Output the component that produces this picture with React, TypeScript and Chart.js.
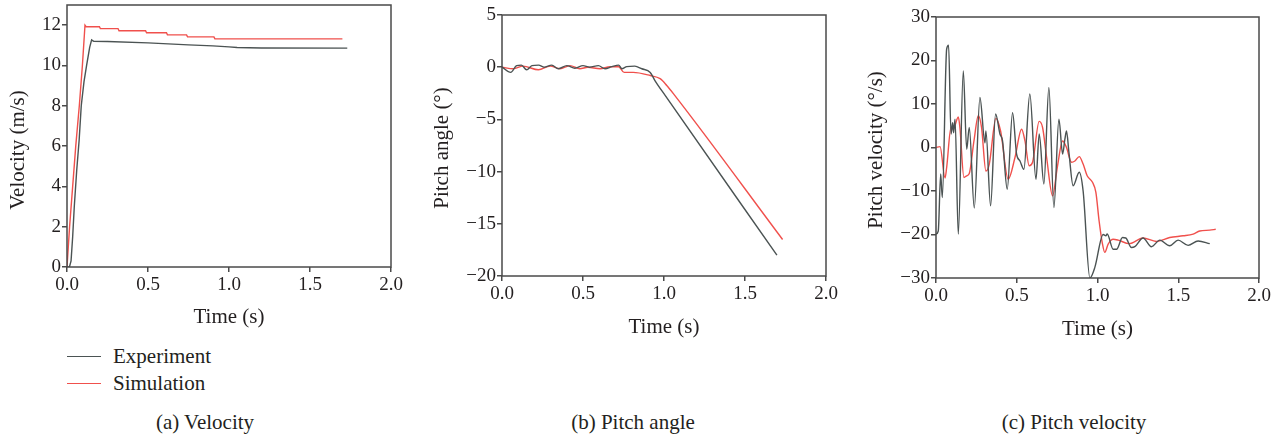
import React, { useEffect, useRef } from "react";
import { Chart, registerables } from "chart.js";

Chart.register(...registerables);

// ---------- data ----------
const xTicks = [0, 0.5, 1.0, 1.5, 2.0];

// (a) velocity
const velExpT = [0, 0.015, 0.025, 0.035, 0.045, 0.06, 0.075, 0.088, 0.105, 0.121, 0.14, 0.152, 0.165, 0.25, 0.5, 0.75, 0.9, 1.0, 1.05, 1.2, 1.73];
const velExpY = [0, 0, 0.3, 1.5, 3.0, 4.8, 6.3, 8.0, 9.2, 10.0, 10.9, 11.27, 11.2, 11.19, 11.12, 11.02, 10.97, 10.92, 10.89, 10.87, 10.86];
const velSimT = [0, 0.016, 0.035, 0.054, 0.076, 0.095, 0.111, 0.118, 0.2, 0.206, 0.315, 0.321, 0.485, 0.491, 0.614, 0.62, 0.738, 0.744, 0.907, 0.913, 1.7];
const velSimY = [0, 2, 4, 6, 8, 10, 12.0, 11.92, 11.92, 11.83, 11.83, 11.72, 11.72, 11.62, 11.62, 11.52, 11.52, 11.42, 11.42, 11.32, 11.32];

// (b) pitch angle
const angExpT = [0, 0.054, 0.09, 0.12, 0.152, 0.185, 0.226, 0.26, 0.307, 0.348, 0.4, 0.45, 0.5, 0.54, 0.595, 0.636, 0.678, 0.72, 0.74, 0.77, 0.82, 0.863, 0.915, 0.945, 1.007, 1.697];
const angExpY = [0, -0.5, 0.15, 0.2, -0.25, 0.15, 0.2, 0.0, 0.2, -0.15, 0.15, -0.1, 0.15, 0.0, 0.15, -0.15, 0.05, 0.2, -0.15, 0.05, 0.1, -0.15, -0.5, -1.3, -2.7, -18.0];
const angSimT = [0, 0.07, 0.13, 0.225, 0.297, 0.358, 0.42, 0.48, 0.53, 0.605, 0.667, 0.72, 0.754, 0.81, 0.915, 0.976, 1.017, 1.059, 1.732];
const angSimY = [0, -0.15, 0.1, -0.25, 0.1, -0.15, 0.15, -0.15, 0, -0.15, 0.05, 0.05, -0.5, -0.5, -0.8, -1.1, -1.75, -2.55, -16.5];

// (c) pitch velocity
const rateExpT = [0, 0.014, 0.029, 0.039, 0.066, 0.078, 0.093, 0.103, 0.109, 0.118, 0.138, 0.169, 0.19, 0.206, 0.237, 0.272, 0.303, 0.309, 0.338, 0.369, 0.396, 0.412, 0.441, 0.474, 0.499, 0.52, 0.544, 0.581, 0.619, 0.639, 0.668, 0.699, 0.73, 0.761, 0.784, 0.798, 0.808, 0.823, 0.849, 0.887, 0.911, 0.953, 0.984, 1.035, 1.052, 1.06, 1.097, 1.118, 1.155, 1.175, 1.21, 1.231, 1.282, 1.334, 1.386, 1.447, 1.499, 1.561, 1.623, 1.695];
const rateExpY = [-19.9, -19.2, -6.1, -11.5, 22.6, 23.5, 3.1, 5.7, 3.4, 6.5, -19.9, 17.6, -0.4, 4.6, -13.9, 11.5, 1.1, 3.8, -13.4, 7.7, 3.1, 1.5, -9.6, 8.0, -1.5, -3.1, -5.0, 12.3, -7.3, 3.1, -8.4, 13.8, -13.8, 6.5, -1.5, 1.9, 3.8, -1.1, -8.8, -5.7, -10, -30, -27.5, -20, -20.3, -19.9, -23.4, -23.4, -20.7, -20.8, -23, -22.8, -20.8, -22.8, -21.3, -22.6, -21.3, -22.5, -21.5, -22.1];
const rateSimT = [0, 0.025, 0.056, 0.066, 0.093, 0.107, 0.138, 0.148, 0.173, 0.19, 0.206, 0.235, 0.262, 0.282, 0.309, 0.33, 0.371, 0.4, 0.447, 0.489, 0.53, 0.551, 0.577, 0.598, 0.639, 0.66, 0.685, 0.722, 0.751, 0.784, 0.808, 0.839, 0.86, 0.887, 0.911, 0.936, 0.969, 0.99, 1.01, 1.029, 1.045, 1.066, 1.097, 1.128, 1.196, 1.282, 1.365, 1.447, 1.53, 1.592, 1.633, 1.695, 1.732];
const rateSimY = [0, 0.2, -7, -4.6, 4.6, 4.2, 7, 4.6, -6.9, -6.5, -6, 1.5, 7.3, 4.6, -5.4, -3.8, 6.7, 3.8, -7.3, -2.3, 4.2, 1.5, -4.2, -3.4, 6, 4.6, -2.3, -11.1, -4.6, 1.5, 0, -3.4, -3.1, -2.1, -3.8, -6.5, -8.0, -10.3, -16.9, -21.8, -24.1, -22.2, -21.1, -21.3, -22.1, -20.8, -21.6, -20.7, -20.3, -19.9, -19.2, -19.0, -18.8];

const seriesNames = ["Experiment", "Simulation"];
const captions = ["(a) Velocity", "(b) Pitch angle", "(c) Pitch velocity"];
const xTitle = "Time (s)";
const yTitles = ["Velocity (m/s)", "Pitch angle (\u00b0)", "Pitch velocity (\u00b0/s)"];

// ---------- styles ----------
const FONT = "'Liberation Serif', 'Times New Roman', serif";
const TEXT = "#231f20";
const AXIS = "#4a4a4a";
const EXP_COLOR = "#4b5353";
const SIM_COLOR = "#f0504c";
const TITLE_SIZE = 21;
const TICK_SIZE = 19;

const zip = (t: number[], y: number[]) => t.map((x, i) => ({ x, y: y[i] }));

const boxPlugin = {
  id: "box",
  afterDraw(chart: any, _args: any, opts: any) {
    const { ctx, chartArea } = chart;
    const { left, top, right, bottom } = chartArea;
    ctx.save();
    ctx.strokeStyle = AXIS;
    ctx.lineWidth = 1.5;
    ctx.strokeRect(left, top, right - left, bottom - top);
    if (opts && opts.yTitle) {
      ctx.translate(opts.yTitleX, opts.yTitleY);
      ctx.rotate(-Math.PI / 2);
      ctx.font = `${TITLE_SIZE}px ${FONT}`;
      ctx.fillStyle = TEXT;
      ctx.textAlign = "center";
      ctx.textBaseline = "middle";
      ctx.fillText(opts.yTitle, 0, 0);
    }
    ctx.restore();
  },
};

type PanelSpec = {
  w: number;
  h: number;
  area: { left: number; right: number; top: number; bottom: number };
  yMin: number;
  yMax: number;
  yStep: number;
  yTitle: string;
  yTitleX: number;
  yTitleY: number;
  exp: { x: number; y: number }[];
  sim: { x: number; y: number }[];
  smooth: boolean;
};

function makeConfig(p: PanelSpec): any {
  const ds = (label: string, data: any, color: string) => ({
    label,
    data,
    borderColor: color,
    backgroundColor: color,
    borderWidth: 1.4,
    pointRadius: 0,
    fill: false,
    tension: p.smooth ? 0.4 : 0,
    cubicInterpolationMode: p.smooth ? "monotone" : "default",
  });
  return {
    type: "line",
    data: {
      datasets: [ds(seriesNames[0], p.exp, EXP_COLOR), ds(seriesNames[1], p.sim, SIM_COLOR)],
    },
    options: {
      animation: false,
      responsive: false,
      maintainAspectRatio: false,
      layout: {
        padding: { left: 0, top: p.area.top, right: p.w - p.area.right, bottom: 0 },
      },
      plugins: {
        legend: { display: false },
        tooltip: { enabled: false },
        box: { yTitle: p.yTitle, yTitleX: p.yTitleX, yTitleY: p.yTitleY },
      },
      scales: {
        x: {
          type: "linear",
          min: 0,
          max: 2,
          afterBuildTicks: (s: any) => {
            s.ticks = xTicks.map((v) => ({ value: v }));
          },
          afterFit: (s: any) => {
            s.height = p.h - p.area.bottom;
            s.paddingLeft = 0;
            s.paddingRight = 0;
          },
          ticks: {
            color: TEXT,
            font: { family: FONT, size: TICK_SIZE },
            padding: 2,
            maxRotation: 0,
            callback: (v: any) => Number(v).toFixed(1),
          },
          grid: { drawOnChartArea: false, drawTicks: true, tickLength: 5, color: AXIS, lineWidth: 1.5 },
          border: { display: false },
          title: {
            display: true,
            text: xTitle,
            color: TEXT,
            font: { family: FONT, size: TITLE_SIZE },
            padding: { top: 0, bottom: 0 },
          },
        },
        y: {
          type: "linear",
          min: p.yMin,
          max: p.yMax,
          afterFit: (s: any) => {
            s.width = p.area.left;
            s.paddingTop = 0;
            s.paddingBottom = 0;
          },
          ticks: {
            stepSize: p.yStep,
            includeBounds: false,
            color: TEXT,
            font: { family: FONT, size: TICK_SIZE },
            padding: 1,
            callback: (v: any) => (Number(v) < 0 ? "\u2212" + Math.abs(Number(v)) : String(v)),
          },
          grid: { drawOnChartArea: false, drawTicks: true, tickLength: 5, color: AXIS, lineWidth: 1.5 },
          border: { display: false },
          title: { display: false },
        },
      },
    },
    plugins: [boxPlugin],
  };
}

const panels: (PanelSpec & { x: number })[] = [
  {
    x: 0,
    w: 420,
    h: 330,
    area: { left: 67, right: 391, top: 5, bottom: 267 },
    yMin: 0,
    yMax: 13,
    yStep: 2,
    yTitle: yTitles[0],
    yTitleX: 18,
    yTitleY: 150,
    exp: zip(velExpT, velExpY),
    sim: zip(velSimT, velSimY),
    smooth: false,
  },
  {
    x: 420,
    w: 430,
    h: 340,
    area: { left: 82, right: 406, top: 15, bottom: 276 },
    yMin: -20,
    yMax: 5,
    yStep: 5,
    yTitle: yTitles[1],
    yTitleX: 22,
    yTitleY: 148,
    exp: zip(angExpT, angExpY),
    sim: zip(angSimT, angSimY),
    smooth: true,
  },
  {
    x: 850,
    w: 434,
    h: 342,
    area: { left: 86, right: 409, top: 17, bottom: 278 },
    yMin: -30,
    yMax: 30,
    yStep: 10,
    yTitle: yTitles[2],
    yTitleX: 26,
    yTitleY: 150,
    exp: zip(rateExpT, rateExpY),
    sim: zip(rateSimT, rateSimY),
    smooth: true,
  },
];

function Panel({ spec }: { spec: PanelSpec & { x: number } }) {
  const ref = useRef<HTMLCanvasElement | null>(null);
  useEffect(() => {
    if (!ref.current) return;
    const chart = new Chart(ref.current, makeConfig(spec));
    return () => chart.destroy();
  }, []);
  return (
    <canvas
      ref={ref}
      width={spec.w}
      height={spec.h}
      style={{ position: "absolute", left: spec.x, top: 0, width: spec.w, height: spec.h }}
    />
  );
}

const textStyle: React.CSSProperties = {
  position: "absolute",
  fontFamily: FONT,
  fontSize: TITLE_SIZE,
  color: TEXT,
  lineHeight: "22px",
  whiteSpace: "nowrap",
};

export default function App() {
  useEffect(() => {
    document.body.style.margin = "0";
  }, []);
  const captionCenters = [205, 633, 1074];
  return (
    <div style={{ position: "relative", width: 1284, height: 441, background: "#fff", overflow: "hidden" }}>
      {panels.map((p, i) => (
        <Panel key={i} spec={p} />
      ))}
      {[EXP_COLOR, SIM_COLOR].map((c, i) => (
        <React.Fragment key={i}>
          <div
            style={{
              position: "absolute",
              left: 67,
              top: 356 + i * 27,
              width: 34,
              height: 0,
              borderTop: `1.4px solid ${c}`,
            }}
          />
          <div style={{ ...textStyle, left: 113, top: 345 + i * 27 }}>{seriesNames[i]}</div>
        </React.Fragment>
      ))}
      {captions.map((c, i) => (
        <div
          key={c}
          style={{ ...textStyle, left: captionCenters[i] - 150, width: 300, textAlign: "center", top: 411 }}
        >
          {c}
        </div>
      ))}
    </div>
  );
}
